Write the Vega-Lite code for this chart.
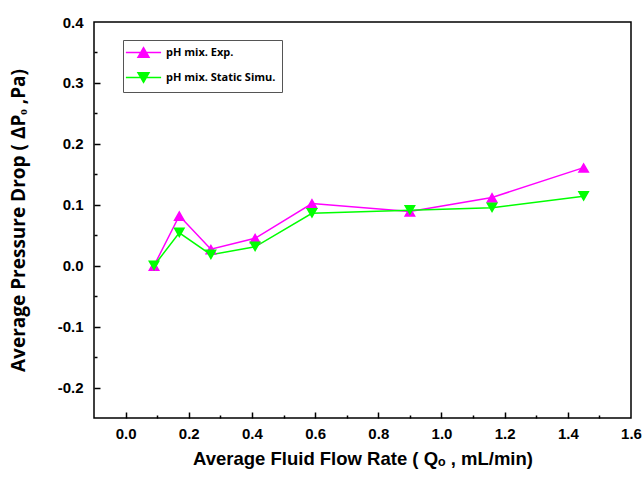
{
  "$schema": "https://vega.github.io/schema/vega-lite/v6.json",
  "width": 537,
  "height": 396,
  "autosize": {"type": "none"},
  "padding": {"left": 94, "top": 22, "right": 13, "bottom": 63},
  "background": "white",
  "config": {
    "view": {"stroke": "black", "strokeWidth": 1.5},
    "font": "Liberation Sans"
  },
  "resolve": {
    "axis": {"x": "independent", "y": "independent"},
    "legend": {"color": "independent", "shape": "independent"}
  },
  "data": {
    "values": [
      {"flow": 0.09, "dp": 0.0, "series": "pH mix. Exp."},
      {"flow": 0.17, "dp": 0.082, "series": "pH mix. Exp."},
      {"flow": 0.27, "dp": 0.027, "series": "pH mix. Exp."},
      {"flow": 0.41, "dp": 0.045, "series": "pH mix. Exp."},
      {"flow": 0.59, "dp": 0.102, "series": "pH mix. Exp."},
      {"flow": 0.90, "dp": 0.089, "series": "pH mix. Exp."},
      {"flow": 1.16, "dp": 0.112, "series": "pH mix. Exp."},
      {"flow": 1.45, "dp": 0.161, "series": "pH mix. Exp."},
      {"flow": 0.09, "dp": 0.0, "series": "pH mix. Static Simu."},
      {"flow": 0.17, "dp": 0.054, "series": "pH mix. Static Simu."},
      {"flow": 0.27, "dp": 0.018, "series": "pH mix. Static Simu."},
      {"flow": 0.41, "dp": 0.031, "series": "pH mix. Static Simu."},
      {"flow": 0.59, "dp": 0.086, "series": "pH mix. Static Simu."},
      {"flow": 0.90, "dp": 0.091, "series": "pH mix. Static Simu."},
      {"flow": 1.16, "dp": 0.095, "series": "pH mix. Static Simu."},
      {"flow": 1.45, "dp": 0.114, "series": "pH mix. Static Simu."}
    ]
  },
  "layer": [
    {
      "mark": {"type": "line", "strokeWidth": 1.5},
      "encoding": {
        "x": {
          "field": "flow", "type": "quantitative",
          "scale": {"domain": [-0.1, 1.6], "nice": false, "zero": false},
          "axis": {
            "orient": "bottom",
            "values": [0, 0.2, 0.4, 0.6, 0.8, 1.0, 1.2, 1.4, 1.6],
            "format": ".1f",
            "domain": false, "grid": false, "ticks": false,
            "labelFlush": false, "labelOverlap": false,
            "labelPadding": 8,
            "labelFont": "Liberation Sans", "labelFontSize": 15, "labelFontWeight": "bold", "labelColor": "black",
            "title": "Average Fluid Flow Rate ( Qₒ , mL/min)",
            "titleFont": "Liberation Sans", "titleFontSize": 18.5, "titleFontWeight": "bold", "titleColor": "black",
            "titlePadding": 8
          }
        },
        "y": {
          "field": "dp", "type": "quantitative",
          "scale": {"domain": [-0.25, 0.4], "nice": false, "zero": false},
          "axis": {
            "orient": "left",
            "values": [-0.2, -0.1, 0, 0.1, 0.2, 0.3, 0.4],
            "labelExpr": "replace(format(datum.value, '.1f'), '−', '-')",
            "domain": false, "grid": false, "ticks": false,
            "labelFlush": false, "labelOverlap": false,
            "labelPadding": 11,
            "labelFont": "Liberation Sans", "labelFontSize": 15, "labelFontWeight": "bold", "labelColor": "black",
            "title": "Average Pressure Drop  ( ΔPₒ ,Pa)",
            "titleFont": "Open Sans", "titleFontSize": 19, "titleFontWeight": "bold", "titleColor": "black",
            "titlePadding": 29
          }
        },
        "color": {
          "field": "series", "type": "nominal",
          "scale": {"domain": ["pH mix. Exp.", "pH mix. Static Simu."], "range": ["#FF00FF", "#00FF00"]},
          "legend": null
        }
      }
    },
    {
      "mark": {"type": "point", "opacity": 0},
      "encoding": {
        "x": {
          "field": "flow", "type": "quantitative",
          "axis": {
            "orient": "bottom",
            "values": [0, 0.2, 0.4, 0.6, 0.8, 1.0, 1.2, 1.4],
            "labels": false, "domain": false, "grid": false, "title": null,
            "tickColor": "black", "tickWidth": 1.5, "tickSize": -6
          }
        },
        "y": {
          "field": "dp", "type": "quantitative",
          "axis": {
            "orient": "left",
            "values": [-0.2, -0.1, 0, 0.1, 0.2, 0.3],
            "labels": false, "domain": false, "grid": false, "title": null,
            "tickColor": "black", "tickWidth": 1.5, "tickSize": -6
          }
        }
      }
    },
    {
      "mark": {"type": "point", "filled": true, "size": 144, "opacity": 1, "strokeWidth": 0},
      "encoding": {
        "x": {
          "field": "flow", "type": "quantitative",
          "axis": {
            "orient": "bottom",
            "values": [0.1, 0.3, 0.5, 0.7, 0.9, 1.1, 1.3, 1.5],
            "labels": false, "domain": false, "grid": false, "title": null,
            "tickColor": "black", "tickWidth": 1.5, "tickSize": -3
          }
        },
        "y": {
          "field": "dp", "type": "quantitative",
          "axis": {
            "orient": "left",
            "values": [-0.15, -0.05, 0.05, 0.15, 0.25, 0.35],
            "labels": false, "domain": false, "grid": false, "title": null,
            "tickColor": "black", "tickWidth": 1.5, "tickSize": -3
          }
        },
        "color": {
          "field": "series", "type": "nominal",
          "scale": {"domain": ["pH mix. Exp.", "pH mix. Static Simu."], "range": ["#FF00FF", "#00FF00"]},
          "legend": {
            "title": null,
            "orient": "none", "legendX": 29, "legendY": 18,
            "strokeColor": "#555555", "fillColor": "white", "padding": 6,
            "symbolSize": 121, "symbolOffset": 8, "symbolStrokeWidth": 1.5,
            "symbolStrokeColor": {"expr": "datum.value == 'pH mix. Exp.' ? '#FF00FF' : '#00FF00'"},
            "labelOffset": 16, "labelFont": "Open Sans", "labelFontSize": 11, "labelFontWeight": "bold", "labelColor": "black",
            "rowPadding": 8
          }
        },
        "shape": {
          "field": "series", "type": "nominal",
          "scale": {
            "domain": ["pH mix. Exp.", "pH mix. Static Simu."],
            "range": ["M-3.2,0L3.2,0M0,-0.87L1,0.87L-1,0.87Z", "M-3.2,0L3.2,0M0,0.87L1,-0.87L-1,-0.87Z"]
          },
          "legend": {
            "title": null,
            "orient": "none", "legendX": 29, "legendY": 18,
            "strokeColor": "#555555", "fillColor": "white", "padding": 6,
            "symbolSize": 121, "symbolOffset": 8, "symbolStrokeWidth": 1.5,
            "symbolStrokeColor": {"expr": "datum.value == 'pH mix. Exp.' ? '#FF00FF' : '#00FF00'"},
            "labelOffset": 16, "labelFont": "Open Sans", "labelFontSize": 11, "labelFontWeight": "bold", "labelColor": "black",
            "rowPadding": 8
          }
        }
      }
    }
  ]
}
